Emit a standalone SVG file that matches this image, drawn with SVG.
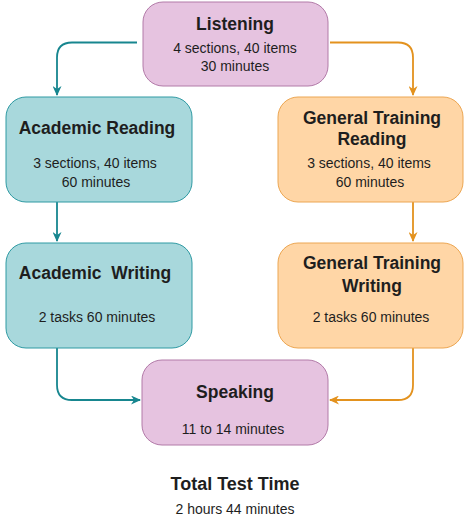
<svg xmlns="http://www.w3.org/2000/svg" width="470" height="521" viewBox="0 0 470 521">
<style>
text{font-family:"Liberation Sans",Arial,sans-serif;fill:#1e1e1e;text-anchor:middle}
.t{font-size:17.5px;font-weight:bold}
.s{font-size:14px}
.pink{fill:#e6c3e0;stroke:#b27aa8;stroke-width:1}
.teal{fill:#a8d8dc;stroke:#2f9aa3;stroke-width:1}
.orange{fill:#ffd6a6;stroke:#eca652;stroke-width:1}
.ct{fill:none;stroke:#17868f;stroke-width:1.8}
.co{fill:none;stroke:#e3921e;stroke-width:1.8}
</style>
<defs>
<marker id="at" viewBox="0 0 10 10" refX="9" refY="5" markerWidth="10" markerHeight="9" orient="auto" markerUnits="userSpaceOnUse" preserveAspectRatio="none"><path d="M0,0 L10,5 L0,10 L3,5 Z" fill="#17868f"/></marker>
<marker id="ao" viewBox="0 0 10 10" refX="9" refY="5" markerWidth="10" markerHeight="9" orient="auto" markerUnits="userSpaceOnUse" preserveAspectRatio="none"><path d="M0,0 L10,5 L0,10 L3,5 Z" fill="#e3921e"/></marker>
</defs>
<g id="connectors">
<path class="ct" d="M137,42.5 H72 Q57,42.5 57,57.5 V95" marker-end="url(#at)"/>
<path class="co" d="M330,42.5 H398 Q413,42.5 413,57.5 V95" marker-end="url(#ao)"/>
<path class="ct" d="M57,202 V241" marker-end="url(#at)"/>
<path class="co" d="M413,202 V241" marker-end="url(#ao)"/>
<path class="ct" d="M57,348 V385 Q57,400 72,400 H140" marker-end="url(#at)"/>
<path class="co" d="M413,348 V385 Q413,400 398,400 H330" marker-end="url(#ao)"/>
</g>
<g id="listening">
<rect class="pink" x="143" y="2" width="185" height="84" rx="20"/>
<text class="t" x="235" y="30">Listening</text>
<text class="s" x="235" y="53">4 sections, 40 items</text>
<text class="s" x="235" y="71">30 minutes</text>
</g>
<g id="academic-reading">
<rect class="teal" x="6" y="97" width="186" height="105" rx="20"/>
<text class="t" x="97" y="134">Academic Reading</text>
<text class="s" x="95" y="168">3 sections, 40 items</text>
<text class="s" x="96" y="187">60 minutes</text>
</g>
<g id="gt-reading">
<rect class="orange" x="278" y="97" width="185" height="105" rx="20"/>
<text class="t" x="372" y="124">General Training</text>
<text class="t" x="372" y="145">Reading</text>
<text class="s" x="369" y="168">3 sections, 40 items</text>
<text class="s" x="370" y="187">60 minutes</text>
</g>
<g id="academic-writing">
<rect class="teal" x="6" y="243" width="186" height="105" rx="20"/>
<text class="t" x="95" y="279" xml:space="preserve">Academic  Writing</text>
<text class="s" x="97" y="322">2 tasks 60 minutes</text>
</g>
<g id="gt-writing">
<rect class="orange" x="278" y="243" width="185" height="105" rx="20"/>
<text class="t" x="372" y="269">General Training</text>
<text class="t" x="372" y="292">Writing</text>
<text class="s" x="371" y="322">2 tasks 60 minutes</text>
</g>
<g id="speaking">
<rect class="pink" x="142" y="360" width="186" height="85" rx="20"/>
<text class="t" x="235" y="398">Speaking</text>
<text class="s" x="233" y="434">11 to 14 minutes</text>
</g>
<g id="total">
<text class="t" x="235" y="490" style="font-size:18px">Total Test Time</text>
<text class="s" x="235" y="514">2 hours 44 minutes</text>
</g>
</svg>
